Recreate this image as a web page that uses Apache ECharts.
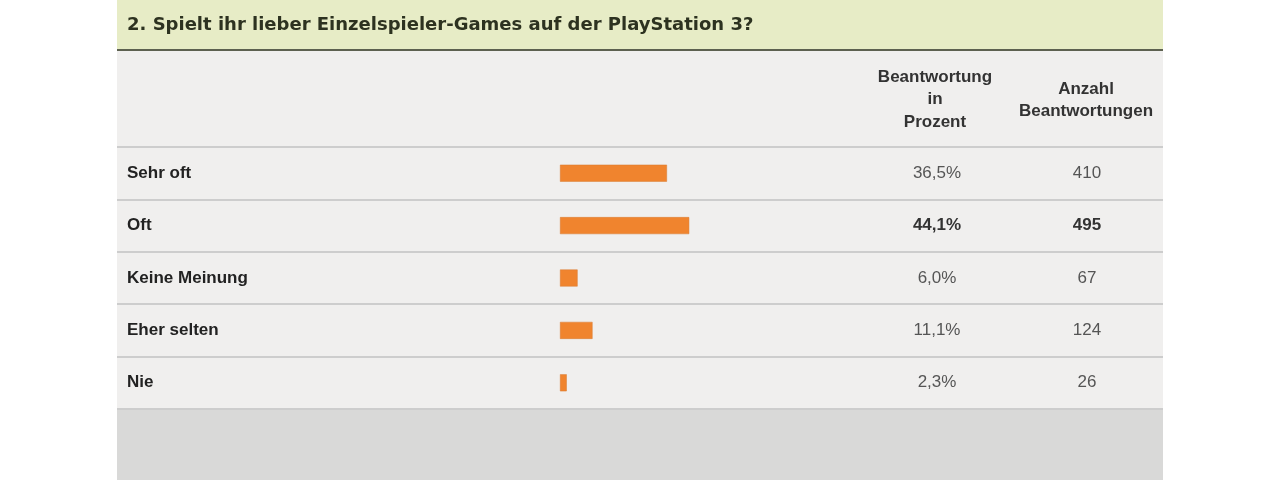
<!DOCTYPE html>
<html><head><meta charset="utf-8">
<script src="https://cdn.jsdelivr.net/npm/echarts@6/dist/echarts.min.js"></script>
<style>html,body{margin:0;padding:0;background:#fff}#c{width:1280px;height:480px}</style>
</head><body><div id="c"></div>
<script>
const categories = ['Sehr oft', 'Oft', 'Keine Meinung', 'Eher selten', 'Nie'];
const percentValues = [36.5, 44.1, 6.0, 11.1, 2.3];
const countValues = [410, 495, 67, 124, 26];
const boldIndex = 1;
const titleText = '2. Spielt ihr lieber Einzelspieler-Games auf der PlayStation 3?';
const headerPercent = 'Beantwortung\nin\nProzent';
const headerCount = 'Anzahl\nBeantwortungen';

const FONT = '"Liberation Sans", Arial, sans-serif';
const TFONT = '"DejaVu Sans", Verdana, sans-serif';
const fmtPct = v => v.toFixed(1).replace('.', ',') + '%';

const chart = echarts.init(document.getElementById('c'));
chart.setOption({
  backgroundColor: '#ffffff',
  animation: false,
  graphic: [
    {type: 'rect', shape: {x: 117, y: 0, width: 1046, height: 49}, style: {fill: '#e7ecc6'}, z: -10},
    {type: 'rect', shape: {x: 117, y: 49, width: 1046, height: 2}, style: {fill: '#5d6150'}, z: -9},
    {type: 'rect', shape: {x: 117, y: 51, width: 1046, height: 357}, style: {fill: '#f0efee'}, z: -10},
    {type: 'rect', shape: {x: 117, y: 409, width: 1046, height: 71}, style: {fill: '#d9d9d8'}, z: -10},
    {type: 'text', x: 127, y: 25, style: {text: titleText, font: 'bold 18px ' + TFONT, fill: '#2d3220', textVerticalAlign: 'middle'}},
    {type: 'text', x: 935, y: 66, style: {text: headerPercent, font: 'bold 17px ' + FONT, fill: '#333', textAlign: 'center', lineHeight: 22.5}},
    {type: 'text', x: 1086, y: 78, style: {text: headerCount, font: 'bold 17px ' + FONT, fill: '#333', textAlign: 'center', lineHeight: 22.5}}
  ],
  grid: [
    {left: 560, top: 147, width: 293, height: 262, containLabel: false},
    {left: 117, top: 147, width: 1046, height: 262, containLabel: false}
  ],
  xAxis: [
    {type: 'value', gridIndex: 0, min: 0, max: 100, show: false},
    {type: 'value', gridIndex: 1, min: 0, max: 1, show: false}
  ],
  yAxis: [
    {type: 'category', gridIndex: 0, data: categories, inverse: true, position: 'left',
      axisLine: {show: false}, axisTick: {show: false}, splitLine: {show: false},
      axisLabel: {margin: 433, align: 'left', color: '#222', fontFamily: FONT, fontWeight: 'bold', fontSize: 17}},
    {type: 'category', gridIndex: 0, data: percentValues, inverse: true, position: 'right',
      axisLine: {show: false}, axisTick: {show: false}, splitLine: {show: false},
      axisLabel: {margin: 84, align: 'center', color: '#555', fontFamily: FONT, fontSize: 17,
        formatter: (v, i) => i === boldIndex ? '{b|' + fmtPct(+v) + '}' : fmtPct(+v),
        rich: {b: {fontWeight: 'bold', color: '#333', fontFamily: FONT, fontSize: 17}}}},
    {type: 'category', gridIndex: 0, data: countValues, inverse: true, position: 'right', offset: 0,
      axisLine: {show: false}, axisTick: {show: false}, splitLine: {show: false},
      axisLabel: {margin: 234, align: 'center', color: '#555', fontFamily: FONT, fontSize: 17,
        formatter: (v, i) => i === boldIndex ? '{b|' + v + '}' : String(v),
        rich: {b: {fontWeight: 'bold', color: '#333', fontFamily: FONT, fontSize: 17}}}},
    {type: 'category', gridIndex: 1, data: categories, inverse: true,
      axisLine: {show: false}, axisTick: {show: false}, axisLabel: {show: false},
      splitLine: {show: true, lineStyle: {color: '#cdcdcd', width: 2}}}
  ],
  series: [
    {type: 'bar', xAxisIndex: 0, yAxisIndex: 0, data: percentValues, barWidth: 17,
      itemStyle: {color: '#f0842e', borderColor: '#d97a30', borderWidth: 0.5}, silent: true}
  ]
});
</script></body></html>
